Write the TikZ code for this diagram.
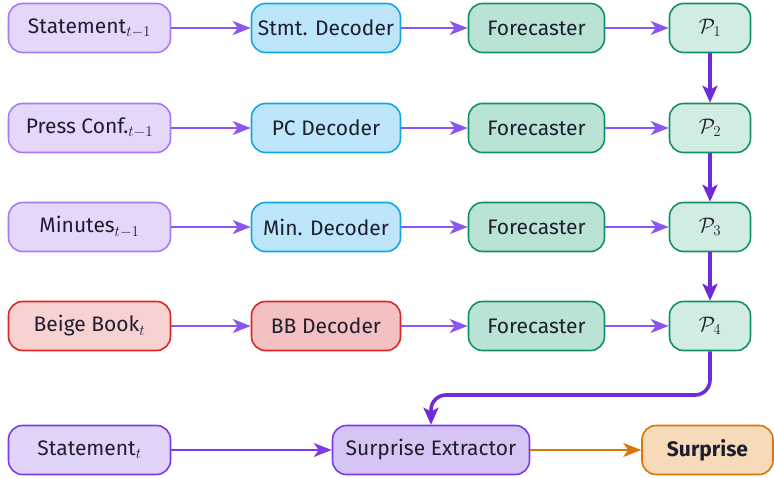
\documentclass[tikz,border=0pt]{standalone}
\usepackage{fix-cm}
\usepackage[no-math]{fontspec}
\setmainfont{Fira Sans}
\DeclareMathSizes{21}{21}{15}{11}
\usetikzlibrary{arrows.meta,calc}

\definecolor{inkc}{HTML}{1E1E30}
\definecolor{inpfill}{HTML}{E4D7FA}
\definecolor{inpdraw}{HTML}{A87CF0}
\definecolor{curfill}{HTML}{E2D3F8}
\definecolor{curdraw}{HTML}{7C3AED}
\definecolor{extfill}{HTML}{D6C5F4}
\definecolor{decfill}{HTML}{BDE6FA}
\definecolor{decdraw}{HTML}{12A6E6}
\definecolor{forfill}{HTML}{B9E3D4}
\definecolor{fordraw}{HTML}{13906A}
\definecolor{pfill}{HTML}{D1ECE2}
\definecolor{bbfill}{HTML}{F8D1D1}
\definecolor{bbdecfill}{HTML}{F3C1C1}
\definecolor{bbdraw}{HTML}{DC2626}
\definecolor{surfill}{HTML}{F6DAB9}
\definecolor{surdraw}{HTML}{D97706}
\definecolor{flowc}{HTML}{8B55F2}
\definecolor{chainc}{HTML}{6D2BD9}

\tikzset{
  box/.style={rounded corners=14pt, line width=1.6pt, minimum height=49pt,
    inner sep=0pt, text=inkc, font=\fontsize{21}{24}\selectfont},
  inbox/.style={box, fill=inpfill, draw=inpdraw, minimum width=162pt},
  curbox/.style={box, fill=curfill, draw=curdraw, minimum width=162pt},
  bbbox/.style={box, fill=bbfill, draw=bbdraw, minimum width=162pt},
  decbox/.style={box, fill=decfill, draw=decdraw, minimum width=149pt},
  bbdecbox/.style={box, fill=bbdecfill, draw=bbdraw, minimum width=149pt},
  forbox/.style={box, fill=forfill, draw=fordraw, minimum width=136pt},
  pbox/.style={box, fill=pfill, draw=fordraw, minimum width=81pt},
  extbox/.style={box, fill=extfill, draw=curdraw, minimum width=197pt},
  surbox/.style={box, fill=surfill, draw=surdraw, minimum width=131pt},
  flow/.style={draw=flowc, line width=1.8pt, -{Stealth[length=18pt,width=14pt,inset=5pt]}},
  chain/.style={draw=chainc, line width=3.6pt, -{Stealth[length=17pt,width=15pt,inset=4pt]}},
  outflow/.style={draw=surdraw, line width=1.8pt, -{Stealth[length=18pt,width=14pt,inset=5pt]}},
}

\begin{document}
\begin{tikzpicture}[x=1pt,y=-1pt]
\useasboundingbox (0,0) rectangle (774,477);

% column 1: source documents
\node[inbox] (s1) at (89.5,28) {Statement$_{t-1}$};
\node[inbox] (s2) at (89.5,128) {Press Conf.$_{t-1}$};
\node[inbox] (s3) at (89.5,227) {Minutes$_{t-1}$};
\node[bbbox] (s4) at (89.5,326) {Beige Book$_t$};
\node[curbox] (s5) at (89.5,450) {Statement$_t$};

% column 2: decoders
\node[decbox] (d1) at (326,28) {Stmt. Decoder};
\node[decbox] (d2) at (326,128) {PC Decoder};
\node[decbox] (d3) at (326,227) {Min. Decoder};
\node[bbdecbox] (d4) at (326,326) {BB Decoder};

% column 3: forecasters
\node[forbox] (f1) at (536.5,28) {Forecaster};
\node[forbox] (f2) at (536.5,128) {Forecaster};
\node[forbox] (f3) at (536.5,227) {Forecaster};
\node[forbox] (f4) at (536.5,326) {Forecaster};

% column 4: predictive distributions
\node[pbox] (p1) at (710,28) {$\mathcal{P}_1$};
\node[pbox] (p2) at (710,128) {$\mathcal{P}_2$};
\node[pbox] (p3) at (710,227) {$\mathcal{P}_3$};
\node[pbox] (p4) at (710,326) {$\mathcal{P}_4$};

% bottom row
\node[extbox] (ex) at (431,450) {Surprise Extractor};
\node[surbox] (su) at (707.5,450) {\bfseries Surprise};

% row flows
\foreach \i in {1,2,3,4}{
  \draw[flow] (s\i) -- (d\i);
  \draw[flow] (d\i) -- (f\i);
  \draw[flow] (f\i) -- (p\i);
}
\draw[flow, draw=curdraw] (s5) -- (ex);
\draw[outflow] (ex) -- (su);

% sequential update chain
\draw[chain] (p1) -- (p2);
\draw[chain] (p2) -- (p3);
\draw[chain] (p3) -- (p4);
\coordinate (turn) at (710,395);
\draw[chain, rounded corners=15pt] (p4.south) -- (turn) -| (ex.north);
\end{tikzpicture}
\end{document}
